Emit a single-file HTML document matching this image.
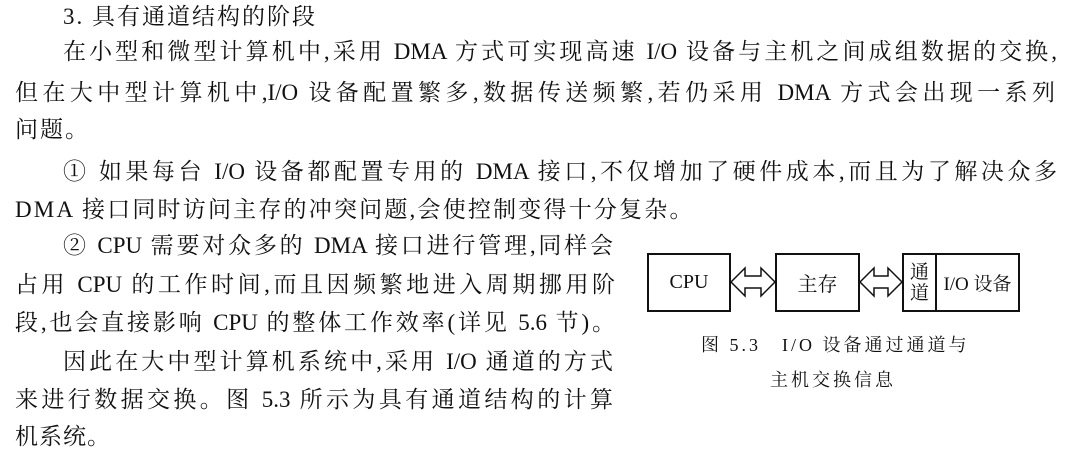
<!DOCTYPE html>
<html><head><meta charset="utf-8"><style>
body{margin:0;width:1066px;height:458px;background:#fff;position:relative;overflow:hidden;font-family:"Liberation Serif","Noto Serif CJK SC",serif;color:#111;}
.l{position:absolute;font-size:23px;line-height:30px;height:30px;white-space:nowrap;}
.j{text-align:justify;text-align-last:justify;white-space:normal;overflow:hidden;}
.box{position:absolute;border:2px solid #111;box-sizing:border-box;display:flex;align-items:center;justify-content:center;font-size:20px;}
.cap{position:absolute;font-size:18px;white-space:nowrap;letter-spacing:3px;}
</style></head><body>
<div class="l" style="left:63px;top:2px;letter-spacing:2px">3. 具有通道结构的阶段</div>
<div class="l j" style="left:63px;top:37px;width:994px">在小型和微型计算机中,采用 DMA 方式可实现高速 I/O 设备与主机之间成组数据的交换,</div>
<div class="l j" style="left:15px;top:78px;width:1040px">但在大中型计算机中,I/O 设备配置繁多,数据传送频繁,若仍采用 DMA 方式会出现一系列</div>
<div class="l" style="left:15px;top:115px;letter-spacing:2px">问题。</div>
<div class="l j" style="left:63px;top:157px;width:994px">① 如果每台 I/O 设备都配置专用的 DMA 接口,不仅增加了硬件成本,而且为了解决众多</div>
<div class="l" style="left:15px;top:195px;letter-spacing:2.2px">DMA 接口同时访问主存的冲突问题,会使控制变得十分复杂。</div>
<div class="l j" style="left:63px;top:231px;width:550px">② CPU 需要对众多的 DMA 接口进行管理,同样会</div>
<div class="l j" style="left:15px;top:270px;width:600px">占用 CPU 的工作时间,而且因频繁地进入周期挪用阶</div>
<div class="l j" style="left:15px;top:308px;width:600px">段,也会直接影响 CPU 的整体工作效率(详见 5.6 节)。</div>
<div class="l j" style="left:63px;top:347px;width:550px">因此在大中型计算机系统中,采用 I/O 通道的方式</div>
<div class="l j" style="left:15px;top:385px;width:598px">来进行数据交换。图 5.3 所示为具有通道结构的计算</div>
<div class="l" style="left:15px;top:422px;letter-spacing:1px">机系统。</div>

<div class="box" style="left:647px;top:253px;width:84px;height:59px">CPU</div>
<div class="box" style="left:775px;top:253px;width:85px;height:59px">主存</div>
<div class="box" style="left:902px;top:253px;width:118px;height:59px;justify-content:flex-start">
  <div style="width:31px;height:100%;border-right:2px solid #111;display:flex;align-items:center;justify-content:center;line-height:21px;font-size:19px;text-align:center">通<br>道</div>
  <div style="flex:1;text-align:center;font-size:19px">I/O 设备</div>
</div>
<svg style="position:absolute;left:0;top:0" width="1066" height="458">
<g fill="#fff" stroke="#111" stroke-width="1.5">
<polygon points="731,282 745,268 745,276 761,276 761,268 775,282 761,296 761,288 745,288 745,296"/>
<polygon points="860,282 874,268 874,276 888,276 888,268 902,282 888,296 888,288 874,288 874,296"/>
</g></svg>
<div class="cap" style="left:701px;top:331px">图 5.3　I/O 设备通过通道与</div>
<div class="cap" style="left:770px;top:366px">主机交换信息</div>
</body></html>
